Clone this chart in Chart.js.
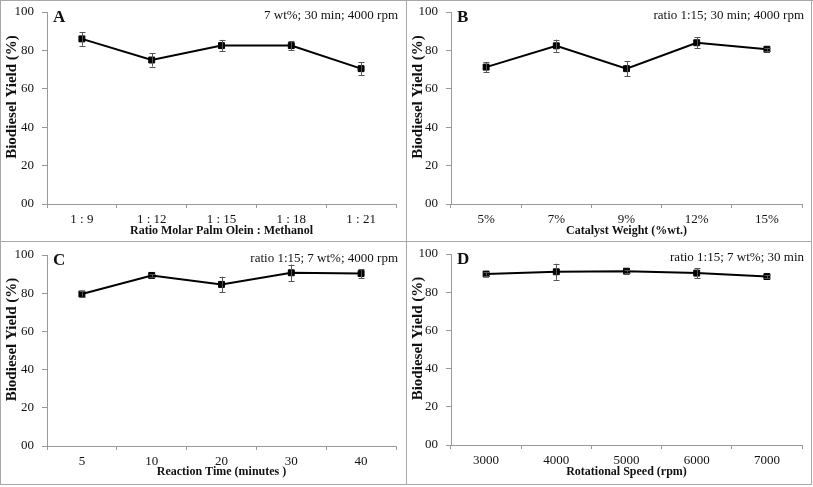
<!DOCTYPE html>
<html>
<head>
<meta charset="utf-8">
<script src="https://cdn.jsdelivr.net/npm/chart.js@4.4.0/dist/chart.umd.min.js"></script>
<style>
  html, body { margin: 0; padding: 0; background: #fff; }
  body { width: 813px; height: 487px; position: relative; overflow: hidden; }
  .panel { position: absolute; width: 405px; height: 240px; }
  .line { position: absolute; background: #a8a8a8; }
</style>
</head>
<body>
<div class="line" style="left:0;top:0;width:813px;height:1px"></div>
<div class="line" style="left:0;top:0;width:1px;height:485px"></div>
<div class="line" style="left:811px;top:0;width:1px;height:485px"></div>
<div class="line" style="left:0;top:484px;width:812px;height:1px"></div>
<div class="line" style="left:406px;top:0;width:1px;height:485px"></div>
<div class="line" style="left:0;top:241px;width:812px;height:1px"></div>

<div class="panel" style="left:1px;top:1px"><canvas id="cA" width="405" height="240"></canvas></div>
<div class="panel" style="left:407px;top:1px"><canvas id="cB" width="405" height="240"></canvas></div>
<div class="panel" style="left:1px;top:242px"><canvas id="cC" width="405" height="240"></canvas></div>
<div class="panel" style="left:407px;top:242px"><canvas id="cD" width="405" height="240"></canvas></div>

<script>
// ---- Data ----
const yTicks = [0, 20, 40, 60, 80, 100];

const ratioLabels = ['1 : 9', '1 : 12', '1 : 15', '1 : 18', '1 : 21'];
const ratioYield  = [86, 75, 82.5, 82.5, 70.5];
const ratioErr    = [3.6, 3.4, 3.0, 2.3, 3.3];

const catalystLabels = ['5%', '7%', '9%', '12%', '15%'];
const catalystYield  = [71.3, 82.4, 70.5, 84.0, 80.6];
const catalystErr    = [2.7, 3.2, 4.0, 2.8, 0.8];

const timeLabels = ['5', '10', '20', '30', '40'];
const timeYield  = [79.6, 89.3, 84.6, 90.7, 90.3];
const timeErr    = [1.4, 0.7, 4.0, 4.3, 2.3];

const speedLabels = ['3000', '4000', '5000', '6000', '7000'];
const speedYield  = [89.5, 90.7, 91.0, 90.0, 88.2];
const speedErr    = [0.9, 4.2, 0.7, 2.6, 0.8];

const panelLetters = ['A', 'B', 'C', 'D'];
const panelNotes = [
  '7 wt%; 30 min; 4000 rpm',
  'ratio 1:15; 30 min; 4000 rpm',
  'ratio 1:15; 7 wt%; 4000 rpm',
  'ratio 1:15; 7 wt%; 30 min'
];
const xTitles = [
  'Ratio Molar Palm Olein : Methanol',
  'Catalyst Weight (%wt.)',
  'Reaction Time (minutes )',
  'Rotational Speed (rpm)'
];
const yTitle = 'Biodiesel Yield (%)';

// ---- Rendering ----
const SERIF = "'Liberation Serif', 'Times New Roman', serif";

const errorBarPlugin = {
  id: 'errorBars',
  afterDatasetsDraw(chart) {
    const errs = chart.options.plugins.errorBars.errors;
    const meta = chart.getDatasetMeta(0);
    const y = chart.scales.y;
    const ctx = chart.ctx;
    const vals = chart.data.datasets[0].data;
    ctx.save();
    ctx.strokeStyle = '#555';
    ctx.lineWidth = 1;
    meta.data.forEach((pt, i) => {
      const e = errs[i];
      if (!e) return;
      const yt = y.getPixelForValue(vals[i] + e);
      const yb = y.getPixelForValue(vals[i] - e);
      const x = Math.round(pt.x) + 0.5;
      ctx.beginPath();
      ctx.moveTo(x, yt); ctx.lineTo(x, yb);
      ctx.moveTo(x - 3, Math.round(yt) + 0.5); ctx.lineTo(x + 3, Math.round(yt) + 0.5);
      ctx.moveTo(x - 3, Math.round(yb) + 0.5); ctx.lineTo(x + 3, Math.round(yb) + 0.5);
      ctx.stroke();
    });
    ctx.restore();
  }
};

const annotPlugin = {
  id: 'annot',
  afterDraw(chart) {
    const o = chart.options.plugins.annot;
    const ca = chart.chartArea;
    const ctx = chart.ctx;
    ctx.save();
    ctx.fillStyle = '#111';
    ctx.textBaseline = 'middle';
    ctx.font = 'bold 17px ' + SERIF;
    ctx.textAlign = 'left';
    ctx.fillText(o.letter, ca.left + 6, ca.top + 5.5);
    ctx.font = '13px ' + SERIF;
    ctx.textAlign = 'right';
    ctx.fillText(o.note, ca.right + 2, ca.top + 3.5);
    // y axis title
    ctx.translate(o.yTitleX, (ca.top + ca.bottom) / 2 - 11);
    ctx.rotate(-Math.PI / 2);
    ctx.textAlign = 'center';
    ctx.font = 'bold 15px ' + SERIF;
    ctx.fillText(yTitle, 0, 0);
    ctx.restore();
  }
};

function makeChart(id, labels, values, errs, idx, top, yWidth, xHeight) {
  return new Chart(document.getElementById(id), {
    type: 'line',
    data: {
      labels: labels,
      datasets: [{
        data: values,
        borderColor: '#000',
        borderWidth: 2,
        pointStyle: 'rect',
        pointRadius: 4.2,
        pointBorderWidth: 1,
        pointBackgroundColor: '#000',
        pointBorderColor: '#000',
        tension: 0,
        clip: false
      }]
    },
    options: {
      responsive: false,
      animation: false,
      layout: { padding: { top: top, right: 10, bottom: 0, left: 0 } },
      plugins: {
        legend: { display: false },
        tooltip: { enabled: false },
        errorBars: { errors: errs },
        annot: { letter: panelLetters[idx], note: panelNotes[idx], yTitleX: 11.5 }
      },
      scales: {
        x: {
          type: 'category',
          offset: true,
          afterFit(s) { s.height = xHeight; s.paddingLeft = 0; s.paddingRight = 0; },
          grid: { display: true, drawOnChartArea: false, drawTicks: true, tickLength: 4, offset: true, color: '#999' },
          border: { display: true, color: '#999', width: 1 },
          ticks: { color: '#111', font: { family: SERIF, size: 13 }, padding: 4, maxRotation: 0 },
          title: { display: true, text: xTitles[idx], color: '#111', font: { family: SERIF, size: 12, weight: 'bold' }, padding: 3 }
        },
        y: {
          min: 0, max: 100,
          afterFit(s) { s.width = yWidth; s.paddingTop = 0; s.paddingBottom = 0; },
          afterBuildTicks(s) { s.ticks = yTicks.map(v => ({ value: v })); },
          grid: { display: true, drawOnChartArea: false, drawTicks: true, tickLength: 5, color: '#999' },
          border: { display: true, color: '#999', width: 1 },
          ticks: {
            color: '#111', font: { family: SERIF, size: 13 }, padding: 8,
            callback: v => (v === 0 ? '00' : String(v))
          },
          title: { display: false }
        }
      }
    },
    plugins: [errorBarPlugin, annotPlugin]
  });
}

makeChart('cA', ratioLabels, ratioYield, ratioErr, 0, 11, 46, 37);
makeChart('cB', catalystLabels, catalystYield, catalystErr, 1, 11, 44, 37);
makeChart('cC', timeLabels, timeYield, timeErr, 2, 13, 46, 36);
makeChart('cD', speedLabels, speedYield, speedErr, 3, 12, 44, 37);
</script>
</body>
</html>
